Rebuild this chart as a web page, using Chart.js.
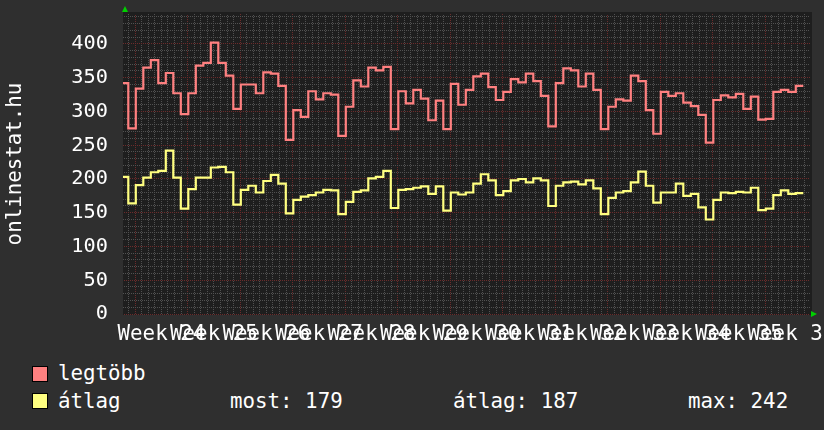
<!DOCTYPE html>
<html>
<head>
<meta charset="utf-8">
<script src="https://cdn.jsdelivr.net/npm/chart.js@4.4.1/dist/chart.umd.min.js"></script>
<style>
html,body{margin:0;padding:0;background:#2f2f2f;}
#wrap{position:relative;width:824px;height:430px;background:#2f2f2f;overflow:hidden;font-family:'DejaVu Sans Mono',monospace;color:#ffffff;}
#cv{position:absolute;left:0;top:0;width:824px;height:350px;}
.lg{position:absolute;font-size:20.8px;line-height:24px;white-space:pre;}
.sw{position:absolute;width:14px;height:14px;border:1px solid #000;}
</style>
</head>
<body>
<div id="wrap">
  <div id="cv"><canvas id="c"></canvas></div>
  <div class="sw" id="sw0"></div>
  <div class="lg" id="lg0"></div>
  <div class="sw" id="sw1"></div>
  <div class="lg" id="lg1"></div>
  <div class="lg" id="st0"></div>
  <div class="lg" id="st1"></div>
  <div class="lg" id="st2"></div>
</div>
<script>
// ---- data (daily values) ----
const seriesNames = ['legtöbb', 'átlag'];
const maxValues = [342,
  275,334,365,376,342,357,327,296,327,368,372,402,372,353,304,340,340,327,358,356,338,258,302,292,330,318,327,325,264,307,
  346,337,365,361,366,274,330,312,332,319,287,316,274,341,310,332,352,356,336,317,329,348,343,356,345,323,278,342,364,361,
  337,356,332,274,307,318,316,353,345,302,267,329,323,327,313,308,295,254,317,324,321,326,304,322,288,289,329,332,329,338];
const avgValues = [203,
  164,191,202,210,212,242,202,156,185,202,202,217,218,210,162,184,190,180,197,206,193,149,169,174,176,180,184,183,148,166,
  181,183,201,203,212,157,184,185,187,189,178,189,153,180,177,180,193,207,198,176,182,198,200,195,201,198,160,190,195,196,
  192,198,186,148,172,180,182,195,211,190,165,180,180,193,175,178,158,140,169,180,179,181,180,187,154,156,176,183,178,179];
const weekNumbers = [24,25,26,27,28,29,30,31,32,33,34,35,36];
const weekLabelWord = 'Week';
const yAxisTitle = 'onlinestat.hu';
const statLabels = ['most: 179', 'átlag: 187', 'max: 242'];

// ---- layout / style ----
const COLORS = ['#ff8080', '#ffff80'];
const X_MIN = 0, X_MAX = 91.6;          // days shown
const FIRST_STEP = -0.293;              // start of first daily interval (days)
const WEEK_START = 1.62;                // first week boundary (days)
const MINOR = 7 / 8;                    // minor grid spacing (days)
const Y_MAX = 444.4;

const canvasEl = document.getElementById('c');
function dotPattern(color) {
  const c = document.createElement('canvas');
  c.width = 2; c.height = 2;
  const g = c.getContext('2d');
  g.fillStyle = color;
  g.fillRect(0, 0, 1, 1);
  g.fillRect(1, 1, 1, 1);
  return canvasEl.getContext('2d').createPattern(c, 'repeat');
}
const GRID_MINOR = dotPattern('#515151');
const GRID_MAJOR = dotPattern('#6c2b2b');

function toPoints(vals) {
  const pts = vals.map((v, i) => ({x: FIRST_STEP + i, y: v}));
  pts.push({x: FIRST_STEP + vals.length, y: vals[vals.length - 1]});
  return pts;
}

function minorIndex(v) { return Math.round((v - WEEK_START) / MINOR); }

const plotDeco = {
  id: 'plotDeco',
  beforeDraw(chart) {
    const {ctx, chartArea: a} = chart;
    ctx.save();
    ctx.fillStyle = '#1e1e1e';
    ctx.fillRect(a.left, a.top - 2, a.right - a.left + 2, a.bottom - a.top + 3);
    ctx.restore();
  },
  afterDraw(chart) {
    const {ctx, chartArea: a} = chart;
    ctx.save();
    ctx.fillStyle = '#00d000';
    ctx.beginPath();
    ctx.moveTo(a.left + 2, a.top - 8);
    ctx.lineTo(a.left - 1, a.top - 2);
    ctx.lineTo(a.left + 5, a.top - 2);
    ctx.closePath();
    ctx.fill();
    ctx.beginPath();
    ctx.moveTo(a.right + 7, a.bottom);
    ctx.lineTo(a.right + 1, a.bottom - 3);
    ctx.lineTo(a.right + 1, a.bottom + 3);
    ctx.closePath();
    ctx.fill();
    ctx.restore();
  }
};

const monoFont = (size) => ({family: "'DejaVu Sans Mono', monospace", size: size});

function zeroPad(scale) {
  scale.paddingTop = 0; scale.paddingBottom = 0;
  scale.paddingLeft = 0; scale.paddingRight = 0;
}

new Chart(canvasEl, {
  type: 'line',
  data: {
    datasets: [
      {label: seriesNames[0], data: toPoints(maxValues), borderColor: COLORS[0], borderWidth: 2.2,
       pointRadius: 0, fill: false, stepped: 'before', tension: 0},
      {label: seriesNames[1], data: toPoints(avgValues), borderColor: COLORS[1], borderWidth: 2.2,
       pointRadius: 0, fill: false, stepped: 'before', tension: 0}
    ]
  },
  options: {
    responsive: true,
    maintainAspectRatio: false,
    animation: false,
    devicePixelRatio: 1,
    layout: {padding: {left: 0, top: 14, right: 14, bottom: 0}},
    plugins: {legend: {display: false}, tooltip: {enabled: false}},
    scales: {
      x: {
        type: 'linear', min: X_MIN, max: X_MAX,
        afterBuildTicks(scale) {
          const t = [];
          for (let j = -1; WEEK_START + j * MINOR <= X_MAX; j++) {
            const v = WEEK_START + j * MINOR;
            if (v >= X_MIN) t.push({value: v});
          }
          scale.ticks = t;
        },
        afterFit(scale) { scale.height = 36; zeroPad(scale); },
        grid: {
          drawTicks: false,
          lineWidth: 1,
          color(ctx) {
            const j = minorIndex(ctx.tick.value);
            return ((j % 8) + 8) % 8 === 0 ? GRID_MAJOR : GRID_MINOR;
          }
        },
        border: {display: false},
        ticks: {
          autoSkip: false, maxRotation: 0, minRotation: 0, padding: 8,
          color: '#ffffff', font: monoFont(20.8),
          callback(value) {
            const j = minorIndex(value);
            if (j >= 0 && j % 8 === 4) {
              const w = weekNumbers[(j - 4) / 8];
              return w === undefined ? '' : weekLabelWord + ' ' + w;
            }
            return '';
          }
        }
      },
      y: {
        type: 'linear', min: 0, max: Y_MAX,
        afterBuildTicks(scale) {
          const t = [];
          for (let v = 0; v <= Y_MAX; v += 10) t.push({value: v});
          scale.ticks = t;
        },
        afterFit(scale) { scale.width = 123; zeroPad(scale); },
        grid: {
          drawTicks: false,
          lineWidth: 1,
          color(ctx) { return ctx.tick.value % 50 === 0 ? GRID_MAJOR : GRID_MINOR; }
        },
        border: {display: false},
        ticks: {
          autoSkip: false, padding: 15, color: '#ffffff', font: monoFont(20.3),
          callback(value) { return value % 50 === 0 ? String(value) : ''; }
        },
        title: {display: true, text: yAxisTitle, color: '#ffffff', font: monoFont(20.8),
                padding: {top: 3, bottom: 0}}
      }
    }
  },
  plugins: [plotDeco]
});

// ---- legend (HTML text) ----
function place(id, left, top, text, bg) {
  const el = document.getElementById(id);
  el.style.left = left + 'px';
  el.style.top = top + 'px';
  if (text !== undefined) el.textContent = text;
  if (bg) el.style.background = bg;
}
place('sw0', 32, 366, undefined, COLORS[0]);
place('lg0', 58, 361, seriesNames[0]);
place('sw1', 32, 393, undefined, COLORS[1]);
place('lg1', 58, 389, seriesNames[1]);
place('st0', 230, 389, statLabels[0]);
place('st1', 453, 389, statLabels[1]);
place('st2', 688, 389, statLabels[2]);
</script>
</body>
</html>
